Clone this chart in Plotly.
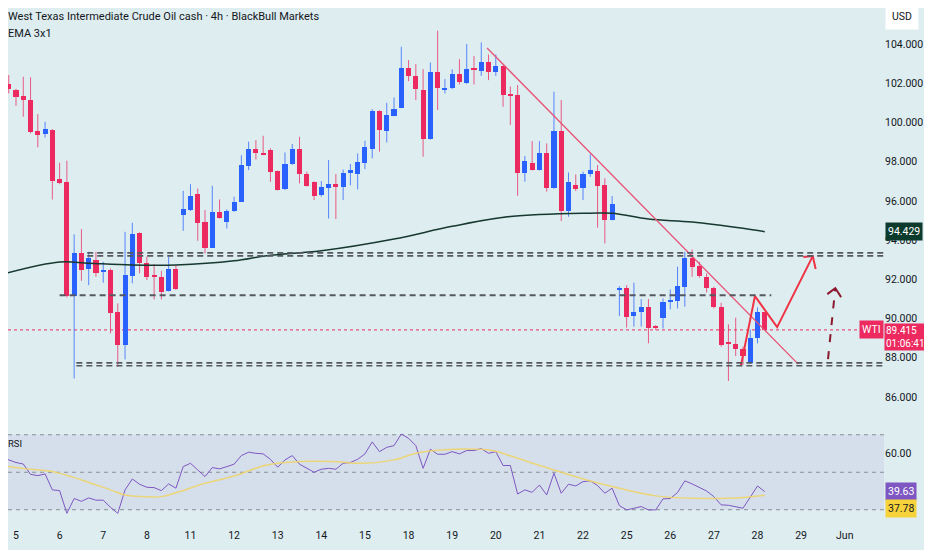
import plotly.graph_objects as go

# 4h bars, bar index 0 = first bar of the 5th (6 bars per session)
bar_idx = list(range(-2, 104))

opens = [102.38, 101.96, 101.68, 101.34, 101.17, 99.58, 99.41, 99.64, 97.14, 96.94,
         91.17, 93.32, 92.52, 92.98, 92.38, 92.47, 90.31, 88.64, 92.16, 94.37,
         92.81, 92.21, 92.13, 91.40, 92.50, 95.27, 95.53, 96.33, 94.90, 93.62,
         95.41, 94.93, 95.48, 95.96, 97.77, 98.67, 98.42, 98.59, 97.52, 96.58,
         97.86, 98.63, 97.37, 96.97, 96.29, 96.67, 96.85, 96.69, 97.40, 97.37,
         97.94, 98.67, 100.60, 99.58, 100.34, 100.75, 102.79, 102.38, 101.68, 99.15,
         102.55, 101.70, 101.74, 102.45, 101.99, 102.79, 102.64, 103.06, 102.59, 102.88,
         101.40, 101.40, 97.43, 97.91, 97.57, 98.42, 96.64, 99.58, 95.48, 96.81,
         96.64, 97.37, 97.52, 96.81, 95.02, 91.45, 91.57, 90.12, 90.34, 90.56,
         89.55, 90.04, 90.85, 90.89, 91.62, 93.10, 92.67, 92.09, 91.57, 90.60,
         88.76, 88.68, 88.42, 87.71, 88.98, 90.31]
highs = [103.80, 102.42, 101.72, 102.33, 102.30, 100.43, 100.03, 99.66, 97.94, 98.05,
         94.29, 94.56, 93.40, 93.40, 92.89, 92.55, 90.77, 94.42, 94.88, 94.39,
         93.15, 92.77, 92.43, 93.15, 92.72, 96.51, 96.85, 96.63, 95.53, 96.77,
         96.07, 95.56, 96.21, 98.33, 99.02, 99.10, 99.32, 98.68, 97.54, 98.47,
         98.90, 99.27, 97.49, 96.99, 97.01, 98.08, 97.37, 97.60, 97.88, 98.42,
         99.07, 100.68, 100.62, 101.00, 101.28, 103.86, 103.18, 102.98, 102.72, 103.06,
         104.68, 102.21, 102.71, 103.23, 104.00, 103.39, 104.08, 103.47, 103.47, 102.90,
         101.84, 101.91, 98.29, 99.05, 99.05, 98.93, 101.57, 101.14, 97.45, 97.35,
         97.49, 98.37, 97.83, 97.15, 96.25, 91.65, 91.70, 91.82, 90.99, 90.99,
         89.66, 91.02, 91.48, 92.64, 93.40, 93.52, 92.89, 92.30, 91.62, 90.80,
         89.70, 90.04, 88.56, 89.44, 90.56, 90.33]
lows = [101.90, 101.48, 100.85, 100.29, 99.44, 98.73, 99.23, 96.07, 96.85, 91.07,
        86.94, 91.92, 91.70, 92.13, 91.82, 89.24, 87.54, 87.91, 91.79, 92.30,
        91.96, 90.97, 90.97, 91.38, 91.45, 94.47, 95.48, 93.96, 93.32, 93.60,
        95.10, 94.59, 95.44, 95.94, 97.57, 98.11, 98.33, 96.97, 96.53, 96.55,
        97.84, 96.89, 96.73, 96.04, 96.21, 95.10, 95.07, 96.04, 96.80, 96.58,
        97.62, 98.17, 98.51, 98.98, 100.32, 100.73, 102.11, 101.14, 98.25, 99.13,
        100.63, 101.48, 101.70, 101.94, 101.97, 101.94, 102.38, 102.16, 102.38, 100.80,
        99.87, 96.26, 96.98, 97.55, 97.55, 96.47, 96.62, 94.97, 95.19, 96.50,
        96.04, 97.23, 94.63, 93.83, 95.00, 90.12, 89.53, 89.58, 89.58, 88.73,
        89.41, 89.49, 90.46, 90.51, 90.60, 92.13, 92.08, 91.33, 90.51, 88.56,
        86.81, 88.08, 87.62, 87.69, 88.73, 89.41]
closes = [102.13, 101.69, 101.31, 101.17, 99.52, 99.35, 99.66, 97.02, 96.89, 91.14,
          93.32, 92.47, 93.11, 92.33, 92.43, 90.29, 88.64, 92.21, 94.30, 92.81,
          92.13, 92.09, 91.33, 92.50, 91.48, 95.56, 96.26, 94.88, 93.62, 95.41,
          95.15, 95.49, 95.96, 97.82, 98.67, 98.42, 98.39, 97.49, 96.55, 97.87,
          98.63, 97.37, 96.75, 96.26, 96.72, 96.85, 96.69, 97.40, 97.57, 97.96,
          98.73, 100.60, 99.61, 100.38, 100.68, 102.79, 102.37, 101.70, 99.15, 102.55,
          101.74, 101.77, 102.45, 102.04, 102.72, 102.72, 103.06, 102.59, 102.88, 101.40,
          101.35, 97.43, 98.03, 97.57, 98.42, 96.64, 99.58, 95.48, 96.97, 96.60,
          97.37, 97.57, 96.77, 95.02, 95.84, 91.57, 90.09, 90.34, 90.56, 89.53,
          89.53, 90.85, 90.94, 91.65, 93.10, 92.64, 92.16, 91.57, 90.56, 88.64,
          88.73, 88.42, 88.08, 89.02, 90.34, 89.415]

# long EMA, read at a few bars
ema_idx = [-2, 6, 10, 16, 22, 30, 34.5, 42, 52, 60, 68, 79, 82, 87, 93, 100, 103]
ema_val = [92.25, 92.88, 92.82, 92.73, 92.73, 92.94, 93.2, 93.45, 94.05, 94.7,
           95.2, 95.37, 95.37, 95.07, 94.92, 94.6, 94.429]

rsi = [58.0, 56.6, 55.2, 54.4, 48.9, 48.2, 49.1, 40.6, 40.2, 28.1,
       36.0, 34.5, 36.3, 35.1, 35.1, 31.3, 28.1, 40.6, 46.4, 43.6,
       42.0, 41.8, 40.2, 43.8, 41.5, 53.0, 54.8, 51.2, 47.7, 52.5,
       51.8, 53.0, 54.3, 58.9, 60.7, 60.1, 59.8, 56.9, 52.7, 56.6,
       58.9, 54.3, 52.1, 50.0, 51.6, 52.1, 51.6, 54.8, 55.2, 56.9,
       59.8, 66.2, 61.0, 63.3, 64.2, 70.4, 68.1, 64.2, 52.1, 62.3,
       59.6, 59.6, 61.0, 59.8, 61.6,
       61.6, 62.6, 60.1, 61.0, 53.6, 53.6, 38.4, 40.6, 39.3, 43.2,
       37.9, 49.5, 38.8, 43.6, 42.7, 45.0, 45.4, 42.9, 38.8, 41.5,
       32.2, 29.9, 30.6, 31.7, 29.9, 29.9, 35.8, 36.0, 39.2, 45.4,
       43.8, 42.0, 40.0, 37.0, 32.6, 32.4, 31.7, 30.8, 36.7, 42.7, 39.63]

rsi_ma_idx = [-2, 2, 5, 9, 13, 15, 17.5, 20, 22.5, 26, 30, 34.5, 39, 43.5, 48, 52,
              55.5, 62, 65.5, 69, 74, 78.5, 83, 88, 93, 98, 100.5, 103]
rsi_ma_val = [53.6, 51.6, 50.4, 45.9, 40.6, 37.9, 37.0, 37.0, 39.7, 44.1, 48.0, 53.9,
              55.7, 55.7, 54.8, 56.6, 60.5, 62.4, 61.6, 57.5, 51.2, 45.9, 41.5, 37.4,
              36.1, 36.1, 36.7, 37.78]

# drawings
levels_double = [(93.27, 9.8), (87.66, 8.3)]     # (price, start bar)
level_single = (91.19, 6.0, 103.9)              # (price, start bar, end bar)
trend_idx = [64.8, 107.6]
trend_val = [103.8, 87.67]
path_idx = [99.7, 101.65, 104.7, 109.6]
path_val = [87.57, 91.14, 89.56, 93.18]
path_head_idx = [108.3, 109.6, 110.0]
path_head_val = [93.13, 93.18, 92.52]
alt_idx = [111.7, 112.7]
alt_val = [87.93, 91.55]
alt_head_idx = [111.6, 112.7, 113.5]
alt_head_val = [91.24, 91.55, 91.09]

day_ticks = [6 * d for d in range(20)]
day_labels = ["5", "6", "7", "8", "11", "12", "13", "14", "15", "18",
              "19", "20", "21", "22", "25", "26", "27", "28", "29", "Jun"]
price_ticks = [86, 88, 90, 92, 94, 96, 98, 100, 102, 104]

FONT = "Roboto, sans-serif"
BG = "#deedf0"
RED = "#ec2a60"
BLUE = "#2962ff"
TXT = "#131722"
# the page sits 8px in from the window corner, so ranges are set for that
X_MIN, X_MAX = -1.1, 119.4

up = [c >= o for o, c in zip(opens, closes)]
body_base = [min(o, c) for o, c in zip(opens, closes)]
body_len = [max(abs(c - o), 0.06) for o, c in zip(opens, closes)]
body_col = [BLUE if u else RED for u in up]

fig = go.Figure()

# wicks, one trace per colour
for flag, col in ((True, "rgba(41,98,255,0.75)"), (False, "rgba(236,42,96,0.75)")):
    wx, wy = [], []
    for k, h, l, u in zip(bar_idx, highs, lows, up):
        if u == flag:
            wx += [k, k, None]
            wy += [l, h, None]
    fig.add_trace(go.Scatter(x=wx, y=wy, mode="lines", line=dict(color=col, width=1),
                             xaxis="x", yaxis="y", showlegend=False, hoverinfo="skip"))

fig.add_trace(go.Bar(x=bar_idx, y=body_len, base=body_base, width=0.7,
                     marker=dict(color=body_col, line=dict(width=0)),
                     xaxis="x", yaxis="y", showlegend=False, hoverinfo="skip"))

fig.add_trace(go.Scatter(x=ema_idx, y=ema_val, mode="lines", line=dict(color="#16382e", width=1.5, shape="spline"),
                         xaxis="x", yaxis="y", showlegend=False, hoverinfo="skip"))

fig.add_trace(go.Scatter(x=trend_idx, y=trend_val, mode="lines", line=dict(color="#e85274", width=1.3),
                         xaxis="x", yaxis="y", showlegend=False, hoverinfo="skip"))
fig.add_trace(go.Scatter(x=path_idx, y=path_val, mode="lines", line=dict(color="#ef3344", width=2),
                         xaxis="x", yaxis="y", showlegend=False, hoverinfo="skip"))
fig.add_trace(go.Scatter(x=path_head_idx, y=path_head_val, mode="lines", line=dict(color="#ef3344", width=2),
                         xaxis="x", yaxis="y", showlegend=False, hoverinfo="skip"))
fig.add_trace(go.Scatter(x=alt_idx, y=alt_val, mode="lines", line=dict(color="#8b1a2e", width=2, dash="8px,9px"),
                         xaxis="x", yaxis="y", showlegend=False, hoverinfo="skip"))
fig.add_trace(go.Scatter(x=alt_head_idx, y=alt_head_val, mode="lines", line=dict(color="#8b1a2e", width=2),
                         xaxis="x", yaxis="y", showlegend=False, hoverinfo="skip"))

fig.add_trace(go.Scatter(x=bar_idx, y=rsi, mode="lines", line=dict(color="#7e57c2", width=1),
                         xaxis="x", yaxis="y2", showlegend=False, hoverinfo="skip"))
fig.add_trace(go.Scatter(x=rsi_ma_idx, y=rsi_ma_val, mode="lines",
                         line=dict(color="rgba(240,212,100,0.85)", width=1.5, shape="spline"),
                         xaxis="x", yaxis="y2", showlegend=False, hoverinfo="skip"))

shapes = []
for price, start in levels_double:
    for off in (-0.075, 0.075):
        shapes.append(dict(type="line", xref="x", yref="y", x0=start, x1=X_MAX, y0=price + off, y1=price + off,
                           line=dict(color="#54585f", width=1.6, dash="6px,4px"), layer="above"))
p, s, e = level_single
shapes.append(dict(type="line", xref="x", yref="y", x0=s, x1=e, y0=p, y1=p,
                   line=dict(color="#54585f", width=2, dash="6px,4px")))
shapes.append(dict(type="line", xref="x domain", yref="y", x0=0, x1=1, y0=closes[-1], y1=closes[-1],
                   line=dict(color=RED, width=1, dash="dot"), layer="below"))
# RSI band and levels
shapes.append(dict(type="rect", xref="x domain", yref="y2", x0=0, x1=1, y0=30, y1=70,
                   fillcolor="rgba(126,87,194,0.09)", line=dict(width=0), layer="below"))
for lv in (30, 50, 70):
    shapes.append(dict(type="line", xref="x domain", yref="y2", x0=0, x1=1, y0=lv, y1=lv,
                       line=dict(color="#8a8d96", width=1, dash="4px,4px"), layer="below"))

annotations = [
    dict(text="West Texas Intermediate Crude Oil cash · 4h · BlackBull Markets", xref="paper", yref="paper",
         x=0, y=1, xanchor="left", yanchor="top", xshift=-2, yshift=0, showarrow=False,
         font=dict(family=FONT, size=11, color=TXT)),
    dict(text="EMA 3x1", xref="paper", yref="paper", x=0, y=1, xanchor="left", yanchor="top",
         xshift=-2, yshift=-17, showarrow=False, font=dict(family=FONT, size=11, color=TXT)),
    dict(text="RSI", xref="paper", yref="y2", x=0, y=70, xanchor="left", yanchor="top",
         xshift=-2, yshift=-1, showarrow=False, font=dict(family=FONT, size=9.5, color=TXT)),
    dict(text="USD", xref="paper", yref="paper", x=1, y=1, xanchor="left", yanchor="top",
         xshift=1, yshift=5, showarrow=False, bgcolor="#ffffff", borderpad=6,
         font=dict(family=FONT, size=10.5, color=TXT)),
    dict(text="%.3f" % ema_val[-1], xref="paper", yref="y", x=1, y=ema_val[-1], xanchor="left",
         xshift=1, showarrow=False, bgcolor="#0c3a2c", borderpad=2,
         font=dict(family=FONT, size=10.5, color="#ffffff")),
    dict(text="WTI", xref="paper", yref="y", x=1, y=closes[-1], xanchor="right", showarrow=False,
         bgcolor=RED, borderpad=2, font=dict(family=FONT, size=10.5, color="#ffffff")),
    dict(text="%.3f<br>01:06:41" % closes[-1], xref="paper", yref="y", x=1, y=closes[-1], xanchor="left",
         yshift=-7, showarrow=False, bgcolor=RED, borderpad=1, align="left",
         font=dict(family=FONT, size=10, color="#ffffff")),
    dict(text="%.2f" % rsi[-1], xref="paper", yref="y2", x=1, y=rsi[-1], xanchor="left", xshift=1,
         showarrow=False, bgcolor="#7e57c2", borderpad=2, font=dict(family=FONT, size=10.5, color="#ffffff")),
    dict(text="%.2f" % rsi_ma_val[-1], xref="paper", yref="y2", x=1, y=rsi_ma_val[-1], xanchor="left",
         xshift=1, yshift=-13.5, showarrow=False, bgcolor="#f7d33b", borderpad=2,
         font=dict(family=FONT, size=10.5, color=TXT)),
]

fig.update_layout(
    width=932, height=550,
    margin=dict(l=0, r=56, t=0, b=31),
    paper_bgcolor=BG, plot_bgcolor=BG,
    font=dict(family=FONT, size=10.5, color=TXT),
    showlegend=False, barmode="overlay", bargap=0,
    xaxis=dict(range=[X_MIN, X_MAX], anchor="y2", tickvals=day_ticks, ticktext=day_labels,
               showgrid=False, zeroline=False, showline=False, ticks="",
               tickfont=dict(family=FONT, size=10.5, color=TXT), fixedrange=True),
    yaxis=dict(domain=[0.2062, 1], range=[84.82, 105.84], side="right", anchor="x",
               tickvals=price_ticks, ticktext=["%.3f" % v for v in price_ticks],
               showgrid=False, zeroline=False, showline=False, ticks="",
               tickfont=dict(family=FONT, size=10.5, color=TXT)),
    yaxis2=dict(domain=[0, 0.2023], range=[20.8, 76.8], side="right", anchor="x",
                tickvals=[60], ticktext=["60.00"], showgrid=False, zeroline=False, showline=False, ticks="",
                tickfont=dict(family=FONT, size=10.5, color=TXT)),
    shapes=shapes,
    annotations=annotations,
)

fig.write_html("out.html")
